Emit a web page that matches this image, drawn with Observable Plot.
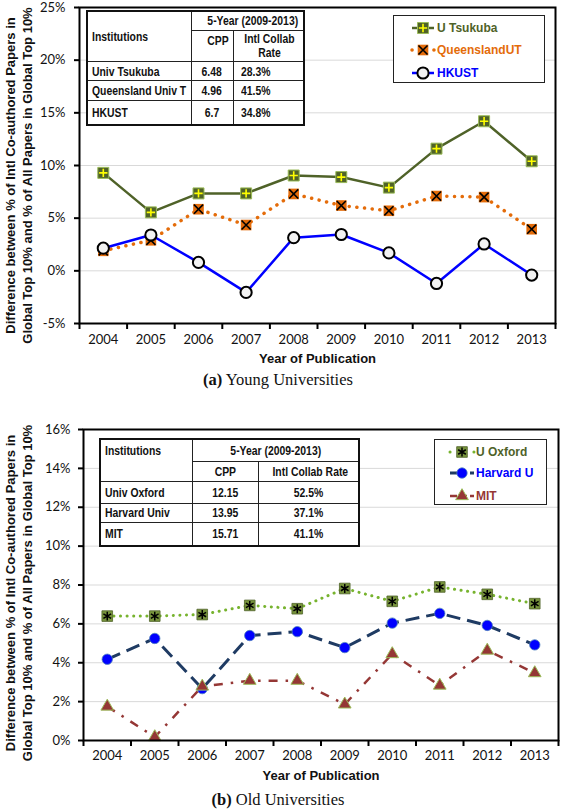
<!DOCTYPE html>
<html><head><meta charset="utf-8">
<script src="https://cdn.jsdelivr.net/npm/d3@7"></script>
<script src="https://cdn.jsdelivr.net/npm/@observablehq/plot@0.6"></script>
<style>
body{margin:0;background:#fff;}
#wrap{position:relative;width:567px;height:810px;overflow:hidden;background:#fff;}
.panel{position:absolute;left:0;}
table.t{position:absolute;border-collapse:collapse;table-layout:fixed;font-family:"Liberation Sans",Arial,sans-serif;font-weight:bold;font-size:13px;color:#111;background:#fff;border:2px solid #111;}
table.t td{border:1.5px solid #222;padding:0 4px;white-space:nowrap;overflow:hidden;box-sizing:border-box;}
table.t .n{display:inline-block;transform:scaleX(0.8);}
table.t .l{transform-origin:left center;}
table.t .c{transform-origin:center center;}
table.t .r{transform-origin:right center;}
.legend{position:absolute;border:1.5px solid #222;background:#fff;font-family:"Liberation Sans",Arial,sans-serif;font-weight:bold;font-size:12px;box-sizing:border-box;}
.legend .item{position:absolute;height:16px;display:flex;align-items:center;white-space:nowrap;}
.caption{position:absolute;left:0;width:556px;text-align:center;font-family:"Liberation Serif","Times New Roman",serif;font-size:16.5px;line-height:20px;color:#111;}
</style></head>
<body>
<div id="wrap">
  <div class="panel" id="pa" style="top:0"></div>
  <div class="panel" id="pb" style="top:410px"></div>
  <div class="caption" style="top:370px"><b>(a)</b> Young Universities</div>
  <div class="caption" style="top:790px"><b>(b)</b> Old Universities</div>
</div>
<script>
// ---------- data ----------
const years = [2004, 2005, 2006, 2007, 2008, 2009, 2010, 2011, 2012, 2013];
const tsukuba    = [9.3, 5.55, 7.35, 7.35, 9.05, 8.9, 7.9, 11.6, 14.2, 10.4];
const queensland = [1.9, 2.9, 5.85, 4.35, 7.3, 6.2, 5.7, 7.1, 7.0, 3.95];
const hkust      = [2.15, 3.4, 0.8, -2.05, 3.15, 3.45, 1.7, -1.2, 2.55, -0.4];
const oxford  = [6.4, 6.4, 6.48, 6.95, 6.78, 7.82, 7.16, 7.9, 7.52, 7.04];
const harvard = [4.18, 5.25, 2.67, 5.4, 5.6, 4.78, 6.04, 6.54, 5.92, 4.92];
const mit     = [1.75, 0.18, 2.78, 3.08, 3.08, 1.86, 4.45, 2.83, 4.63, 3.47];
const seriesNamesA = ["U Tsukuba", "QueenslandUT", "HKUST"];
const seriesNamesB = ["U Oxford", "Harvard U", "MIT"];
const yTicksA = [-5, 0, 5, 10, 15, 20, 25];
const yTicksB = [0, 2, 4, 6, 8, 10, 12, 14, 16];
const xTitle = "Year of Publication";
const yTitleLines = ["Difference between % of Intl Co-authored Papers in", "Global Top 10% and % of All Papers in Global Top 10%"];
const tableHead = ["Institutions", "5-Year (2009-2013)", "CPP", "Intl Collab Rate"];
const instA = ["Univ Tsukuba", "Queensland Univ T", "HKUST"];
const cppA = ["6.48", "4.96", "6.7"];
const collabA = ["28.3%", "41.5%", "34.8%"];
const instB = ["Univ Oxford", "Harvard Univ", "MIT"];
const cppB = ["12.15", "13.95", "15.71"];
const collabB = ["52.5%", "37.1%", "41.1%"];

// ---------- styles ----------
const stylesA = [
  {color: "#4F6228", width: 2.5, dash: null, cap: "butt",
   markers: [{symbol: "square", r: 6.2, fill: "#4F6228", stroke: "#9BBB59", sw: 1},
             {symbol: "plus", r: 2.8, fill: "none", stroke: "#FFFF00", sw: 1.6}], text: "#4F6228"},
  {color: "#E46C0A", width: 3.5, dash: "0.1 7.6", cap: "round",
   markers: [{symbol: "square", r: 6.0, fill: "#E46C0A", stroke: "none", sw: 0},
             {symbol: "times", r: 4.2, fill: "none", stroke: "#000", sw: 1.6}], text: "#E46C0A"},
  {color: "#0000FF", width: 2.5, dash: null, cap: "butt",
   markers: [{symbol: "circle", r: 5.6, fill: "#F2F2F2", stroke: "#000", sw: 2}], text: "#0000FF"}
];
const stylesB = [
  {color: "#77B32E", width: 3, dash: "0.1 6.5", cap: "round",
   markers: [{symbol: "square", r: 6.0, fill: "#77933C", stroke: "#4F6228", sw: 0.8},
             {symbol: "asterisk", r: 4.2, fill: "none", stroke: "#000", sw: 1.5}], text: "#4F6228"},
  {color: "#1F3B63", width: 3, dash: "14 7", cap: "butt",
   markers: [{symbol: "circle", r: 5.2, fill: "#0000FF", stroke: "#4F81BD", sw: 0.8}], text: "#0000FF"},
  {color: "#953735", width: 2.5, dash: "9 8 2.5 8", cap: "butt",
   markers: [{symbol: "triangle", r: 4.7, fill: "#953735", stroke: "#9BBB59", sw: 1}], text: "#953735"}
];

const idx = d3.range(years.length);
const bounds = d3.range(years.length + 1).map(i => i - 0.5);

function makePanel({values, styles, height, mt, mb, ml, mr, yDomain, yTicks, xPad, yPad, yDx, yDy}) {
  const marks = [Plot.gridY(yTicks, {stroke: "#D9D9D9", strokeOpacity: 1, strokeWidth: 1})];
  values.forEach((vals, k) => {
    const s = styles[k];
    marks.push(Plot.line(idx, {x: i => i, y: i => vals[i], stroke: s.color, strokeWidth: s.width,
      strokeDasharray: s.dash ?? undefined, strokeLinecap: s.cap, strokeLinejoin: "round"}));
    for (const m of s.markers) {
      marks.push(Plot.dot(idx, {x: i => i, y: i => vals[i], symbol: m.symbol, r: m.r,
        fill: m.fill, stroke: m.stroke, strokeWidth: m.sw}));
    }
  });
  marks.push(
    Plot.frame({stroke: "#000", strokeWidth: 2}),
    Plot.axisY(yTicks, {tickFormat: d => d + "%", tickSize: 5, tickPadding: yPad, stroke: "#000", strokeWidth: 2, fill: "#111", fontSize: 13, label: null}),
    Plot.axisX(idx, {tickFormat: i => String(years[i]), tickSize: 0, tickPadding: xPad, fill: "#111", fontSize: 13, label: null}),
    Plot.axisX(bounds, {tickFormat: () => "", tickSize: 6, stroke: "#000", strokeWidth: 2, label: null}),
    Plot.text([xTitle], {frameAnchor: "bottom", dy: 39, fontWeight: "bold", fontFamily: "Liberation Sans, Arial, sans-serif", fontSize: 13, fill: "#111"}),
    Plot.text([yTitleLines.join("\n")], {frameAnchor: "left", textAnchor: "middle", lineAnchor: "middle", rotate: -90, dx: yDx, dy: yDy, lineHeight: 1.3, fontWeight: "bold", fontFamily: "Liberation Sans, Arial, sans-serif", fontSize: 13, fill: "#111"})
  );
  return Plot.plot({
    width: 567, height, marginTop: mt, marginBottom: mb, marginLeft: ml, marginRight: mr,
    x: {domain: [-0.5, years.length - 0.5]},
    y: {domain: yDomain},
    style: {fontFamily: "Lato, 'Open Sans', sans-serif", fontSize: "13px", color: "#111", background: "white", overflow: "visible"},
    marks
  });
}

document.getElementById("pa").appendChild(makePanel({
  values: [tsukuba, queensland, hkust], styles: stylesA,
  height: 372, mt: 7, mb: 49, ml: 79, mr: 12, yDomain: [-5, 25], yTicks: yTicksA,
  xPad: 11, yPad: 9, yDx: -61, yDy: 10
}));
document.getElementById("pb").appendChild(makePanel({
  values: [oxford, harvard, mit], styles: stylesB,
  height: 380, mt: 19, mb: 50, ml: 83, mr: 9, yDomain: [0, 16], yTicks: yTicksB,
  xPad: 10, yPad: 8, yDx: -65, yDy: 8
}));

// ---------- tables ----------
const wrap = document.getElementById("wrap");
const sp = (txt, o) => `<span class="n ${o}">${txt}</span>`;
function makeTable({left, top, cols, rows, inst, cpp, collab, variant}) {
  const t = document.createElement("table");
  t.className = "t";
  t.style.left = left + "px"; t.style.top = top + "px";
  t.style.width = d3.sum(cols) + "px";
  const cg = document.createElement("colgroup");
  cols.forEach(w => { const c = document.createElement("col"); c.style.width = w + "px"; cg.appendChild(c); });
  t.appendChild(cg);
  let html = "";
  if (variant === "a") {
    html += `<tr style="height:${rows[0]}px"><td rowspan="2" style="vertical-align:middle">${sp(tableHead[0], "l")}</td><td colspan="2" style="text-align:center">${sp(tableHead[1], "c")}</td></tr>`;
    html += `<tr style="height:${rows[1]}px"><td style="text-align:right;vertical-align:top;padding-top:2px">${sp(tableHead[2], "r")}</td><td style="text-align:center;line-height:1.15;vertical-align:top;padding-top:1px">${sp(tableHead[3].replace(" Rate", "<br>Rate"), "c")}</td></tr>`;
    inst.forEach((n, i) => {
      html += `<tr style="height:${rows[i + 2]}px"><td>${sp(n, "l")}</td><td style="text-align:center">${sp(cpp[i], "c")}</td><td style="padding-left:7px">${sp(collab[i], "l")}</td></tr>`;
    });
  } else {
    html += `<tr style="height:${rows[0]}px"><td rowspan="2" style="vertical-align:top;padding-top:3px">${sp(tableHead[0], "l")}</td><td colspan="2" style="text-align:center">${sp(tableHead[1], "c")}</td></tr>`;
    html += `<tr style="height:${rows[1]}px"><td style="text-align:center">${sp(tableHead[2], "c")}</td><td style="text-align:center">${sp(tableHead[3], "c")}</td></tr>`;
    inst.forEach((n, i) => {
      html += `<tr style="height:${rows[i + 2]}px"><td>${sp(n, "l")}</td><td style="text-align:center">${sp(cpp[i], "c")}</td><td style="text-align:center">${sp(collab[i], "c")}</td></tr>`;
    });
  }
  t.insertAdjacentHTML("beforeend", html);
  wrap.appendChild(t);
}
makeTable({left: 86, top: 10, cols: [104, 42, 71], rows: [19, 31, 19, 20, 24], inst: instA, cpp: cppA, collab: collabA, variant: "a"});
makeTable({left: 99, top: 438, cols: [92, 66, 101], rows: [22, 20, 22, 19, 24], inst: instB, cpp: cppB, collab: collabB, variant: "b"});

// ---------- legends ----------
const symMap = {square: d3.symbolSquare, plus: d3.symbolPlus, times: d3.symbolTimes, circle: d3.symbolCircle, asterisk: d3.symbolAsterisk, triangle: d3.symbolTriangle};
function makeLegend({left, top, width, height, names, styles, rowsY, swLeft, swW, textLeft}) {
  const box = document.createElement("div");
  box.className = "legend";
  Object.assign(box.style, {left: left + "px", top: top + "px", width: width + "px", height: height + "px"});
  names.forEach((name, k) => {
    const s = styles[k];
    const item = document.createElement("div");
    item.className = "item";
    item.style.left = swLeft + "px";
    item.style.top = (rowsY[k] - 8) + "px";
    const svg = d3.create("svg").attr("width", swW).attr("height", 16).style("overflow", "visible");
    svg.append("line").attr("x1", 0).attr("x2", swW).attr("y1", 8).attr("y2", 8)
      .attr("stroke", s.color).attr("stroke-width", s.width)
      .attr("stroke-dasharray", s.dash ? (s.dash.startsWith("0.1") ? "0.1 " + (swW - 0.2) : "7 3") : null)
      .attr("stroke-linecap", s.cap);
    for (const m of s.markers) {
      svg.append("path").attr("transform", `translate(${swW / 2},8)`)
        .attr("d", d3.symbol(symMap[m.symbol], m.r * m.r * Math.PI)())
        .attr("fill", m.fill).attr("stroke", m.stroke).attr("stroke-width", m.sw);
    }
    item.appendChild(svg.node());
    const t = document.createElement("span");
    t.textContent = name;
    t.style.color = s.text;
    t.style.marginLeft = (textLeft - swLeft - swW) + "px";
    item.appendChild(t);
    box.appendChild(item);
  });
  wrap.appendChild(box);
}
makeLegend({left: 393, top: 15, width: 152, height: 68, names: seriesNamesA, styles: stylesA, rowsY: [12, 34, 57], swLeft: 18, swW: 22, textLeft: 43});
makeLegend({left: 434, top: 439, width: 113, height: 66, names: seriesNamesB, styles: stylesB, rowsY: [12, 33, 56], swLeft: 15, swW: 24, textLeft: 41});
</script>
</body></html>
